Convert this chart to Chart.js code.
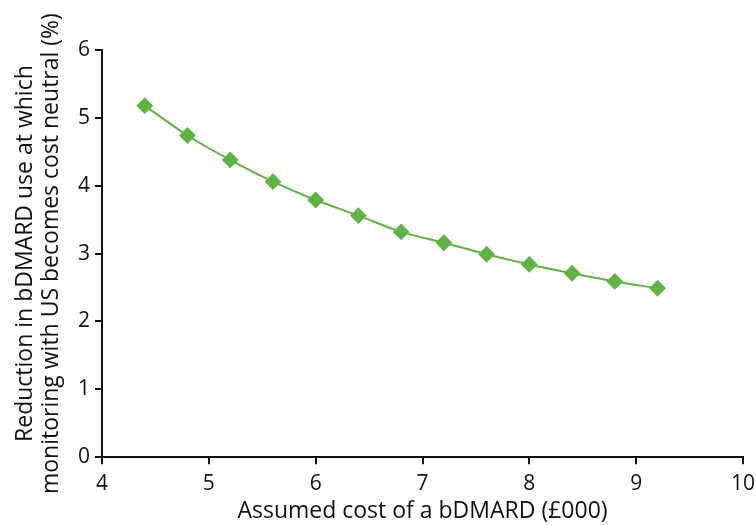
<!DOCTYPE html>
<html><head><meta charset="utf-8">
<script src="https://cdn.jsdelivr.net/npm/chart.js@4"></script>
<style>html,body{margin:0;padding:0;background:#fff}#wrap{width:756px;height:525px}</style>
</head><body><div id="wrap"><canvas id="c" width="756" height="525"></canvas></div>
<script>
const costs = [4.4, 4.8, 5.2, 5.6, 6.0, 6.4, 6.8, 7.2, 7.6, 8.0, 8.4, 8.8, 9.2];
const reduction = [5.18, 4.74, 4.38, 4.06, 3.79, 3.56, 3.32, 3.16, 2.99, 2.84, 2.71, 2.59, 2.49];
const xTitle = 'Assumed cost of a bDMARD (£000)';
const yTitle = ['Reduction in bDMARD use at which', 'monitoring with US becomes cost neutral (%)'];
const FONT = '"Open Sans", "Noto Sans", sans-serif';
const green = '#62b346';
new Chart(document.getElementById('c'), {
  type: 'line',
  data: { datasets: [{
    data: costs.map((x, i) => ({x, y: reduction[i]})),
    borderColor: green, backgroundColor: green,
    borderWidth: 2, pointStyle: 'rectRot', pointRadius: 7, pointHoverRadius: 7,
    tension: 0.3, fill: false
  }]},
  options: {
    responsive: false, animation: false,
    layout: { padding: { top: 50, right: 0, bottom: 0, left: 12 } },
    plugins: { legend: { display: false }, tooltip: { enabled: false } },
    scales: {
      x: { type: 'linear', min: 4, max: 10,
        afterFit: (s) => { s.paddingRight = 13; },
        ticks: { stepSize: 1, color: '#111', font: { family: FONT, size: 21 }, padding: 7 },
        grid: { drawOnChartArea: false, drawTicks: true, tickLength: 7, color: '#111', lineWidth: 2 },
        border: { color: '#111', width: 2 },
        title: { display: true, text: xTitle, color: '#111', font: { family: FONT, size: 23 }, padding: { top: -6, bottom: 0 } }
      },
      y: { min: 0, max: 6,
        afterFit: (s) => { s.width = 90; },
        ticks: { stepSize: 1, color: '#111', font: { family: FONT, size: 21 }, padding: 5 },
        grid: { drawOnChartArea: false, drawTicks: true, tickLength: 7, color: '#111', lineWidth: 2 },
        border: { color: '#111', width: 2 },
        title: { display: true, text: yTitle, color: '#111', font: { family: FONT, size: 23, lineHeight: 1.15 }, padding: { top: 0, bottom: 4 } }
      }
    }
  }
});
</script></body></html>
